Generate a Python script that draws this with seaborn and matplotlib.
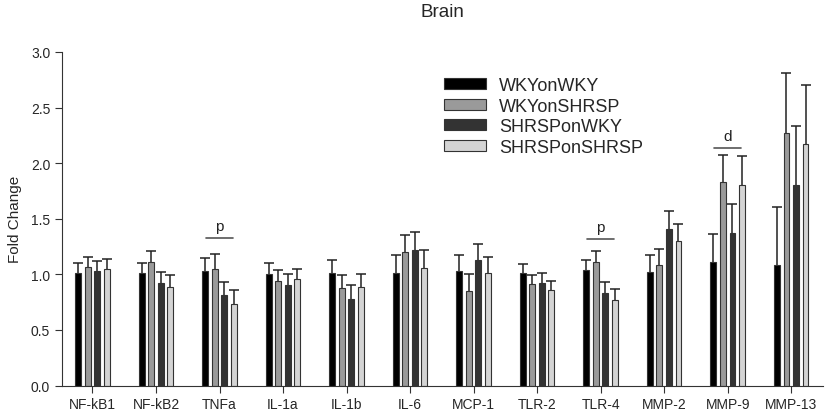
import seaborn as sns
import matplotlib.pyplot as plt
import pandas as pd

genes = ["NF-kB1", "NF-kB2", "TNFa", "IL-1a", "IL-1b", "IL-6",
         "MCP-1", "TLR-2", "TLR-4", "MMP-2", "MMP-9", "MMP-13"]
groups = ["WKYonWKY", "WKYonSHRSP", "SHRSPonWKY", "SHRSPonSHRSP"]

wky_on_wky = [1.01, 1.01, 1.03, 1.00, 1.01, 1.01, 1.03, 1.01, 1.04, 1.02, 1.11, 1.08]
wky_on_shrsp = [1.07, 1.11, 1.05, 0.94, 0.88, 1.20, 0.85, 0.91, 1.11, 1.08, 1.83, 2.27]
shrsp_on_wky = [1.03, 0.92, 0.81, 0.90, 0.78, 1.22, 1.13, 0.92, 0.83, 1.41, 1.37, 1.80]
shrsp_on_shrsp = [1.05, 0.89, 0.73, 0.96, 0.89, 1.06, 1.01, 0.86, 0.77, 1.30, 1.80, 2.17]

sem_wky_on_wky = [0.09, 0.09, 0.12, 0.10, 0.12, 0.16, 0.14, 0.08, 0.09, 0.15, 0.25, 0.53]
sem_wky_on_shrsp = [0.09, 0.10, 0.13, 0.10, 0.11, 0.15, 0.15, 0.08, 0.10, 0.15, 0.24, 0.54]
sem_shrsp_on_wky = [0.09, 0.10, 0.12, 0.10, 0.12, 0.16, 0.14, 0.09, 0.10, 0.16, 0.26, 0.53]
sem_shrsp_on_shrsp = [0.09, 0.10, 0.13, 0.09, 0.11, 0.16, 0.15, 0.08, 0.10, 0.15, 0.26, 0.53]

colors = ["#000000", "#9a9a9a", "#333333", "#d4d4d4"]

means = [wky_on_wky, wky_on_shrsp, shrsp_on_wky, shrsp_on_shrsp]
sems = [sem_wky_on_wky, sem_wky_on_shrsp, sem_shrsp_on_wky, sem_shrsp_on_shrsp]

rows = []
for g, vals in zip(groups, means):
    for gene, v in zip(genes, vals):
        rows.append({"Gene": gene, "Group": g, "Fold Change": v})
df = pd.DataFrame(rows)

sns.set_style("ticks")
plt.rcParams["font.family"] = ["Liberation Sans", "DejaVu Sans"]

fig = plt.figure(figsize=(8.25, 4.14), dpi=100)
ax = fig.add_axes([62 / 825, 1 - 386.5 / 414, (823 - 62) / 825, (386.5 - 53) / 414])

sns.barplot(data=df, x="Gene", y="Fold Change", hue="Group", hue_order=groups,
            palette=colors, width=0.6, gap=0.38, errorbar=None,
            edgecolor="#333333", linewidth=0.8, ax=ax)

# upper-only error bars (stem + cap at the top)
for cont, err in zip(ax.containers, sems):
    xs = [b.get_x() + b.get_width() / 2 for b in cont]
    ys = [b.get_height() for b in cont]
    tops = [y + e for y, e in zip(ys, err)]
    ax.vlines(xs, ys, tops, color="#222222", lw=1.1)
    ax.plot(xs, tops, ls="none", marker="_", ms=7, mew=1.1, color="#222222")

# significance marks
for xc, yl, lab in [(2, 1.33, "p"), (8, 1.32, "p"), (10, 2.14, "d")]:
    ax.plot([xc - 0.21, xc + 0.21], [yl, yl], color="#555555", lw=1.2)
    ax.text(xc, yl + 0.04, lab, ha="center", va="bottom", fontsize=11, color="#222222")

ax.set_xlim(-0.48, 11.5)
ax.set_ylim(0, 3.0)
ax.set_yticks([0, 0.5, 1.0, 1.5, 2.0, 2.5, 3.0])
ax.set_yticklabels(["0.0", "0.5", "1.0", "1.5", "2.0", "2.5", "3.0"])
ax.set_xlabel("")
ax.set_ylabel("Fold Change", fontsize=11, labelpad=6)
ax.set_title("Brain", fontsize=13.5, pad=26)
ax.tick_params(axis="both", labelsize=10, length=5, width=0.8, color="#333333")
for s in ["left", "bottom"]:
    ax.spines[s].set_color("#333333")
    ax.spines[s].set_linewidth(0.8)
sns.despine(ax=ax)

handles, labels = ax.get_legend_handles_labels()
ax.legend(handles, labels, loc="upper left", bbox_to_anchor=(444 / 825, 1 - 78 / 414),
          bbox_transform=fig.transFigure, frameon=False, fontsize=13,
          handlelength=2.35, handleheight=0.55, handletextpad=0.7,
          labelspacing=0.2, borderpad=0, borderaxespad=0)

fig.savefig("out.png", dpi=100)
